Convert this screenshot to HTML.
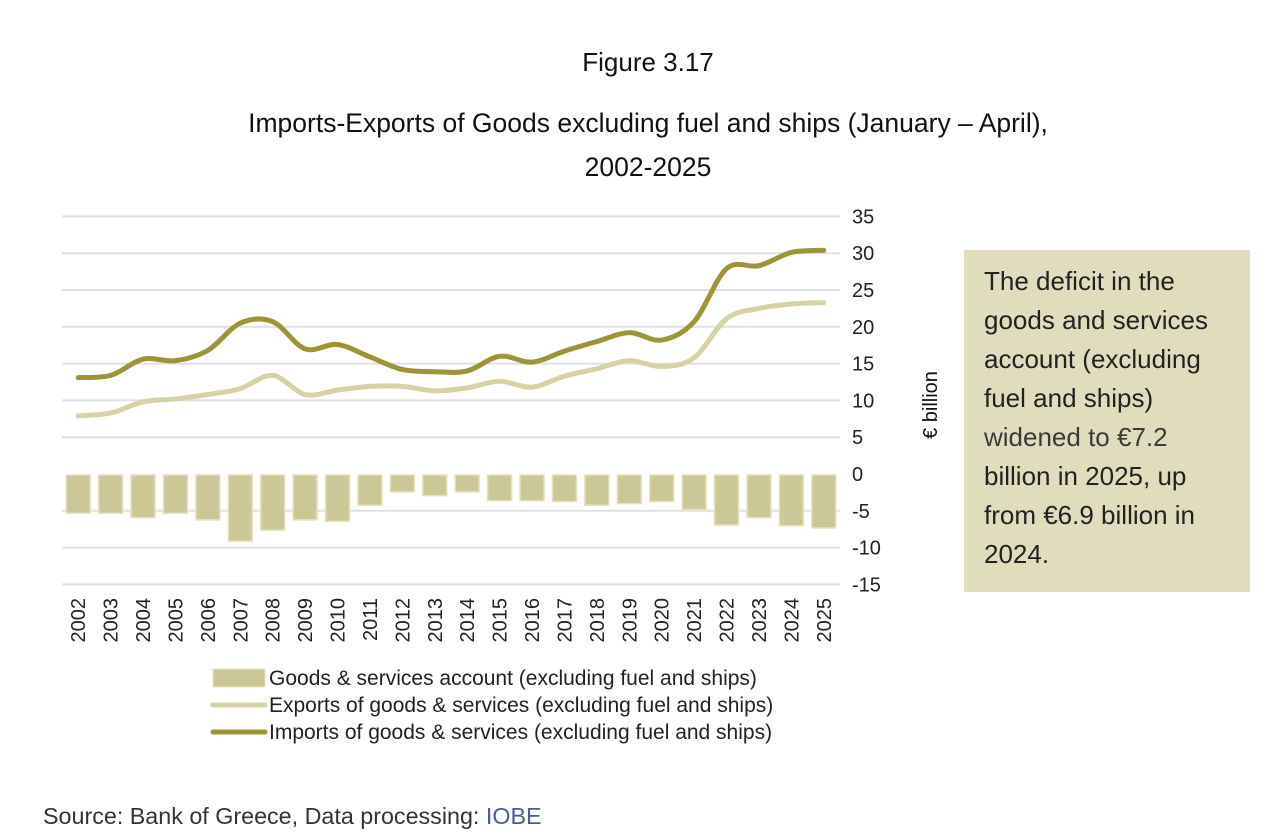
<!DOCTYPE html>
<html><head><meta charset="utf-8"><style>
body{margin:0;width:1280px;height:840px;background:#fff;font-family:"Liberation Sans",sans-serif;overflow:hidden;position:relative}
.t{position:absolute;left:0;width:1296px;text-align:center;color:#111}
#box{position:absolute;left:964px;top:250px;width:286px;height:342px;background:#e0ddbf;box-sizing:border-box;padding:12px 10px 12px 20px;font-size:26px;line-height:39px;color:#222}
</style></head><body>
<div class="t" style="top:47px;font-size:26px">Figure 3.17</div>
<div class="t" style="top:101px;font-size:26.5px;line-height:44px">Imports-Exports of Goods excluding fuel and ships (January – April),<br>2002-2025</div>
<div id="box">The deficit in the goods and services account (excluding fuel and ships) <span style="color:#3a3a3a">widened to €7.2</span> billion in 2025, up from €6.9 billion in 2024.</div>
<div style="position:absolute;left:43px;top:803px;font-size:23.3px;color:#333">Source: Bank of Greece, Data processing: <span style="color:#4a5a9a">IOBE</span></div>
<svg id="c" width="1280" height="840" style="position:absolute;left:0;top:0"></svg>
<script>
const years=["2002","2003","2004","2005","2006","2007","2008","2009","2010","2011","2012","2013","2014","2015","2016","2017","2018","2019","2020","2021","2022","2023","2024","2025"];
const balance=[-5.2,-5.2,-5.8,-5.2,-6.1,-9.0,-7.5,-6.1,-6.3,-4.1,-2.3,-2.8,-2.3,-3.5,-3.5,-3.6,-4.1,-3.9,-3.6,-4.7,-6.8,-5.8,-6.9,-7.2];
const exportsV=[7.9,8.3,9.8,10.2,10.8,11.6,13.4,10.8,11.4,11.9,11.9,11.3,11.7,12.6,11.8,13.3,14.3,15.4,14.6,15.8,21.1,22.5,23.1,23.3];
const importsV=[13.1,13.4,15.6,15.4,16.8,20.5,20.7,17.0,17.6,15.9,14.2,13.9,14.0,16.0,15.2,16.7,18.0,19.2,18.2,20.7,27.9,28.3,30.1,30.4];
const yTicks=[35,30,25,20,15,10,5,0,-5,-10,-15];
const svg=document.getElementById('c');const NS='http://www.w3.org/2000/svg';
const X0=62,X1=840,bw=(X1-X0)/years.length;
const xc=i=>X0+bw*(i+0.5);
const y=v=>474-v*7.36;
function mk(t,a){const e=document.createElementNS(NS,t);for(const k in a)e.setAttribute(k,a[k]);svg.appendChild(e);return e;}
yTicks.forEach(v=>{
 if(v!==0){const g=mk('line',{x1:X0,x2:X1,y1:y(v),y2:y(v),stroke:'#dfe1e6','stroke-width':2});
 
 }
 const t=mk('text',{x:852,y:y(v)+7,'font-size':20,fill:'#222','font-family':'Liberation Sans'});t.textContent=v;
 
 
});
const yt=mk('text',{x:0,y:0,'font-size':20,fill:'#111',transform:'translate(937,405) rotate(-90)','text-anchor':'middle','font-family':'Liberation Sans'});yt.textContent='€ billion';


balance.forEach((v,i)=>{
 const r=mk('rect',{x:xc(i)-12,y:y(0)+1,width:24,height:y(v)-y(0),fill:'#ccc797',stroke:'#e6e2c0','stroke-width':1.5});
 
 
});
years.forEach((yr,i)=>{
 const t=mk('text',{x:0,y:0,'font-size':20,fill:'#222','text-anchor':'end','font-family':'Liberation Sans',transform:`translate(${xc(i)+7},598) rotate(-90)`});t.textContent=yr;
 
 
});
function path(vals){
 const p=vals.map((v,i)=>[xc(i),y(v)]);let d=`M${p[0][0]},${p[0][1]}`;
 for(let i=0;i<p.length-1;i++){const p0=p[i-1]||p[i],p1=p[i],p2=p[i+1],p3=p[i+2]||p2;
  d+=` C${p1[0]+(p2[0]-p0[0])/6},${p1[1]+(p2[1]-p0[1])/6} ${p2[0]-(p3[0]-p1[0])/6},${p2[1]-(p3[1]-p1[1])/6} ${p2[0]},${p2[1]}`;}
 return d;}
const le=mk('path',{d:path(exportsV),fill:'none',stroke:'#d6d2a4','stroke-width':5,'stroke-linecap':'round'});


const li=mk('path',{d:path(importsV),fill:'none',stroke:'#9d9437','stroke-width':5,'stroke-linecap':'round'});


const leg=[["bar","Goods & services account (excluding fuel and ships)",678],["exp","Exports of goods & services (excluding fuel and ships)",705],["imp","Imports of goods & services (excluding fuel and ships)",732]];
leg.forEach(l=>{
 let s;
 if(l[0]=='bar')s=mk('rect',{x:213,y:l[2]-9,width:52,height:18,fill:'#ccc797',stroke:'#e6e2c0'});
 else s=mk('line',{x1:213,x2:265,y1:l[2],y2:l[2],stroke:l[0]=='exp'?'#d6d2a4':'#9d9437','stroke-width':5,'stroke-linecap':'round'});
 
 
 const t=mk('text',{x:269,y:l[2]+7,'font-size':21,fill:'#222','font-family':'Liberation Sans'});t.textContent=l[1];
 
 
});
</script>
</body></html>
